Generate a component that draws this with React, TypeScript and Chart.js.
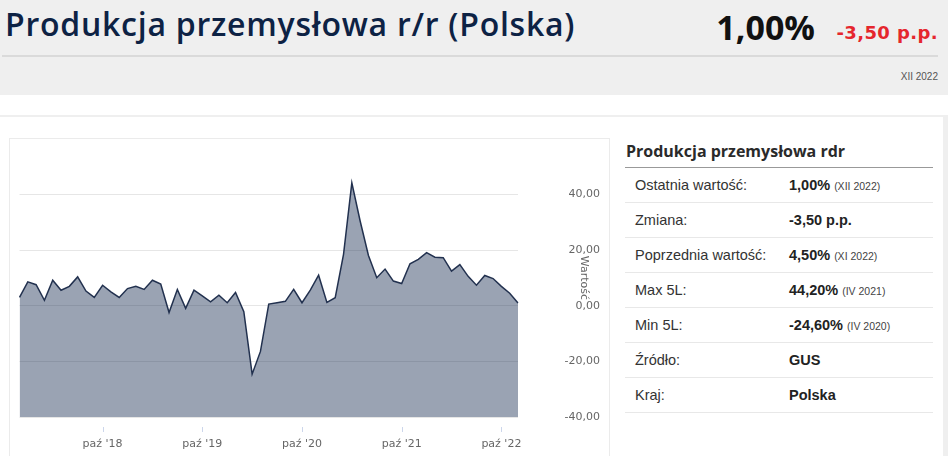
import { useEffect, useRef } from "react";
import { Chart, registerables } from "chart.js";

Chart.register(...registerables);

const monthNames = ["sty", "lut", "mar", "kwi", "maj", "cze", "lip", "sie", "wrz", "paź", "lis", "gru"];

// gru '17 .. gru '22, one label per month
const months: string[] = [];
for (let i = 0; i < 61; i++) {
  const m = (11 + i) % 12;
  const y = 17 + Math.floor((11 + i) / 12);
  months.push(`${monthNames[m]} '${y}`);
}

// produkcja przemysłowa r/r, %
const values = [
  3.0, 8.6, 7.6, 2.0, 9.2, 5.6, 7.0, 10.4, 5.3, 3.0, 7.4, 5.0,
  3.0, 6.2, 7.0, 5.9, 9.2, 7.8, -2.4, 5.9, -0.9, 5.6, 3.6, 1.4,
  3.8, 1.1, 4.8, -2.1, -24.6, -16.4, 0.6, 1.1, 1.6, 5.9, 1.1, 5.6,
  11.0, 1.2, 2.9, 18.5, 44.2, 30.5, 18.1, 10.1, 13.2, 8.9, 8.0, 15.1,
  16.7, 19.1, 17.5, 17.3, 12.5, 14.8, 10.6, 7.4, 10.9, 9.8, 7.0, 4.5, 1.0,
];

const yMin = -40;
const yMax = 60;
const yStep = 20;
const xTickMonth = "paź";

const infoRows: { label: string; value: string; note?: string }[] = [
  { label: "Ostatnia wartość:", value: "1,00%", note: "(XII 2022)" },
  { label: "Zmiana:", value: "-3,50 p.p." },
  { label: "Poprzednia wartość:", value: "4,50%", note: "(XI 2022)" },
  { label: "Max 5L:", value: "44,20%", note: "(IV 2021)" },
  { label: "Min 5L:", value: "-24,60%", note: "(IV 2020)" },
  { label: "Źródło:", value: "GUS" },
  { label: "Kraj:", value: "Polska" },
];

const fmt = (v: number) => v.toFixed(2).replace(".", ",");

// small tick marks under the plot, a bit below it like the original
const xTickMarks = {
  id: "xTickMarks",
  afterDraw(chart: any) {
    const x = chart.scales.x;
    const { ctx, chartArea } = chart;
    ctx.save();
    ctx.strokeStyle = "#ccd6eb";
    ctx.lineWidth = 1;
    x.ticks.forEach((t: any, i: number) => {
      if (t.label == null) return;
      const px = Math.round(x.getPixelForTick(i)) + 0.5;
      ctx.beginPath();
      ctx.moveTo(px, chartArea.bottom + 10);
      ctx.lineTo(px, chartArea.bottom + 15);
      ctx.stroke();
    });
    ctx.restore();
  },
};

const AreaChart = () => {
  const canvasRef = useRef<HTMLCanvasElement>(null);

  useEffect(() => {
    if (!canvasRef.current) return;
    const chart = new Chart(canvasRef.current, {
      type: "line",
      data: {
        labels: months,
        datasets: [
          {
            label: "Wartość",
            data: values,
            borderColor: "#22314f",
            borderWidth: 1.5,
            backgroundColor: "rgba(22,42,78,0.43)",
            fill: "start",
            tension: 0,
            pointRadius: 0,
          },
        ],
      },
      options: {
        animation: false,
        responsive: false,
        layout: { padding: { left: 9.5, right: 5, top: 0, bottom: 7 } },
        plugins: { legend: { display: false }, tooltip: { enabled: false } },
        scales: {
          x: {
            grid: { display: false, drawTicks: false },
            border: { display: false },
            afterFit: (s: any) => {
              s.height = 32;
              s.paddingLeft = 0;
              s.paddingRight = 0;
            },
            ticks: {
              autoSkip: false,
              maxRotation: 0,
              padding: 21,
              color: "#666",
              font: { family: "DejaVu Sans", size: 11 },
              callback: function (this: any, value: any) {
                const l = this.getLabelForValue(value) as string;
                return l.startsWith(xTickMonth) ? l : null;
              },
            },
          },
          y: {
            position: "right",
            min: yMin,
            max: yMax,
            grid: { color: "#e6e6e6", drawTicks: false },
            border: { display: false },
            afterFit: (s: any) => {
              s.width = 82;
              s.paddingTop = 0;
              s.paddingBottom = 0;
            },
            ticks: {
              stepSize: yStep,
              padding: 27,
              crossAlign: "far",
              color: "#666",
              font: { family: "DejaVu Sans", size: 11 },
              callback: (v: any) => (Number(v) >= yMax ? null : fmt(Number(v))),
            },
            title: {
              display: true,
              text: "Wartość",
              color: "#666",
              padding: { top: 10, bottom: 4 },
              font: { family: "DejaVu Sans", size: 11 },
            },
          },
        },
      },
      plugins: [xTickMarks],
    });
    return () => chart.destroy();
  }, []);

  return (
    <canvas
      ref={canvasRef}
      width={595}
      height={317}
      style={{ position: "absolute", left: 10, top: 139, width: 595, height: 317 }}
    />
  );
};

export default function App() {
  useEffect(() => {
    document.body.style.margin = "0";
  }, []);

  const abs = (s: React.CSSProperties): React.CSSProperties => ({ position: "absolute", ...s });

  return (
    <div style={{ position: "relative", width: 948, height: 456, overflow: "hidden", background: "#fff" }}>
      {/* header */}
      <div style={abs({ left: 0, top: 0, width: 948, height: 95, background: "#efefef" })} />
      <div
        style={abs({
          left: 5,
          top: 8,
          fontFamily: "Open Sans",
          fontWeight: 600,
          fontSize: 32,
          lineHeight: "32px",
          color: "#0d2244",
          whiteSpace: "nowrap",
          letterSpacing: 0.75,
        })}
      >
        Produkcja przemysłowa r/r (Polska)
      </div>
      <div
        style={abs({
          right: 948 - 815,
          top: 10,
          fontFamily: "Open Sans",
          fontWeight: 700,
          fontSize: 34,
          lineHeight: "34px",
          color: "#111",
          whiteSpace: "nowrap",
        })}
      >
        1,00%
      </div>
      <div
        style={abs({
          right: 948 - 938,
          top: 24,
          fontFamily: "DejaVu Sans",
          fontWeight: 700,
          fontSize: 18,
          lineHeight: "18px",
          color: "#e5262d",
          whiteSpace: "nowrap",
          letterSpacing: 0.4,
        })}
      >
        -3,50 p.p.
      </div>
      <div style={abs({ left: 2, top: 55, width: 936, height: 2, background: "#dadada" })} />
      <div
        style={abs({
          right: 948 - 938,
          top: 72,
          fontFamily: "Liberation Sans Narrow, Liberation Sans",
          fontSize: 10,
          lineHeight: "10px",
          color: "#555",
        })}
      >
        XII 2022
      </div>

      {/* container borders */}
      <div style={abs({ left: 0, top: 115, width: 948, height: 2, background: "#efefef" })} />
      <div style={abs({ left: 943, top: 115, width: 5, height: 341, background: "#efefef" })} />

      {/* chart box */}
      <div style={abs({ left: 9, top: 138, width: 599, height: 330, border: "1px solid #ebebeb" })} />
      <AreaChart />

      {/* info panel */}
      <div
        style={abs({
          left: 626,
          top: 141,
          fontFamily: "Open Sans",
          fontWeight: 700,
          fontSize: 16,
          lineHeight: "20px",
          color: "#2a2a2a",
          whiteSpace: "nowrap",
        })}
      >
        Produkcja przemysłowa rdr
      </div>
      <div style={abs({ left: 625, top: 167, width: 308, height: 1, background: "#999" })} />
      <div style={abs({ left: 625, top: 168, width: 308 })}>
        {infoRows.map((r) => (
          <div
            key={r.label}
            style={{
              position: "relative",
              height: 34,
              borderBottom: "1px solid #e8e8e8",
              fontFamily: "Liberation Sans",
              fontSize: 14.5,
              lineHeight: "34px",
              whiteSpace: "nowrap",
            }}
          >
            <span style={{ position: "absolute", left: 10, color: "#333" }}>{r.label}</span>
            <span style={{ position: "absolute", left: 164, color: "#222", fontWeight: 700 }}>
              {r.value}
              {r.note && (
                <span style={{ fontWeight: 400, fontSize: 10.5, color: "#444", marginLeft: 4 }}>{r.note}</span>
              )}
            </span>
          </div>
        ))}
      </div>
    </div>
  );
}
